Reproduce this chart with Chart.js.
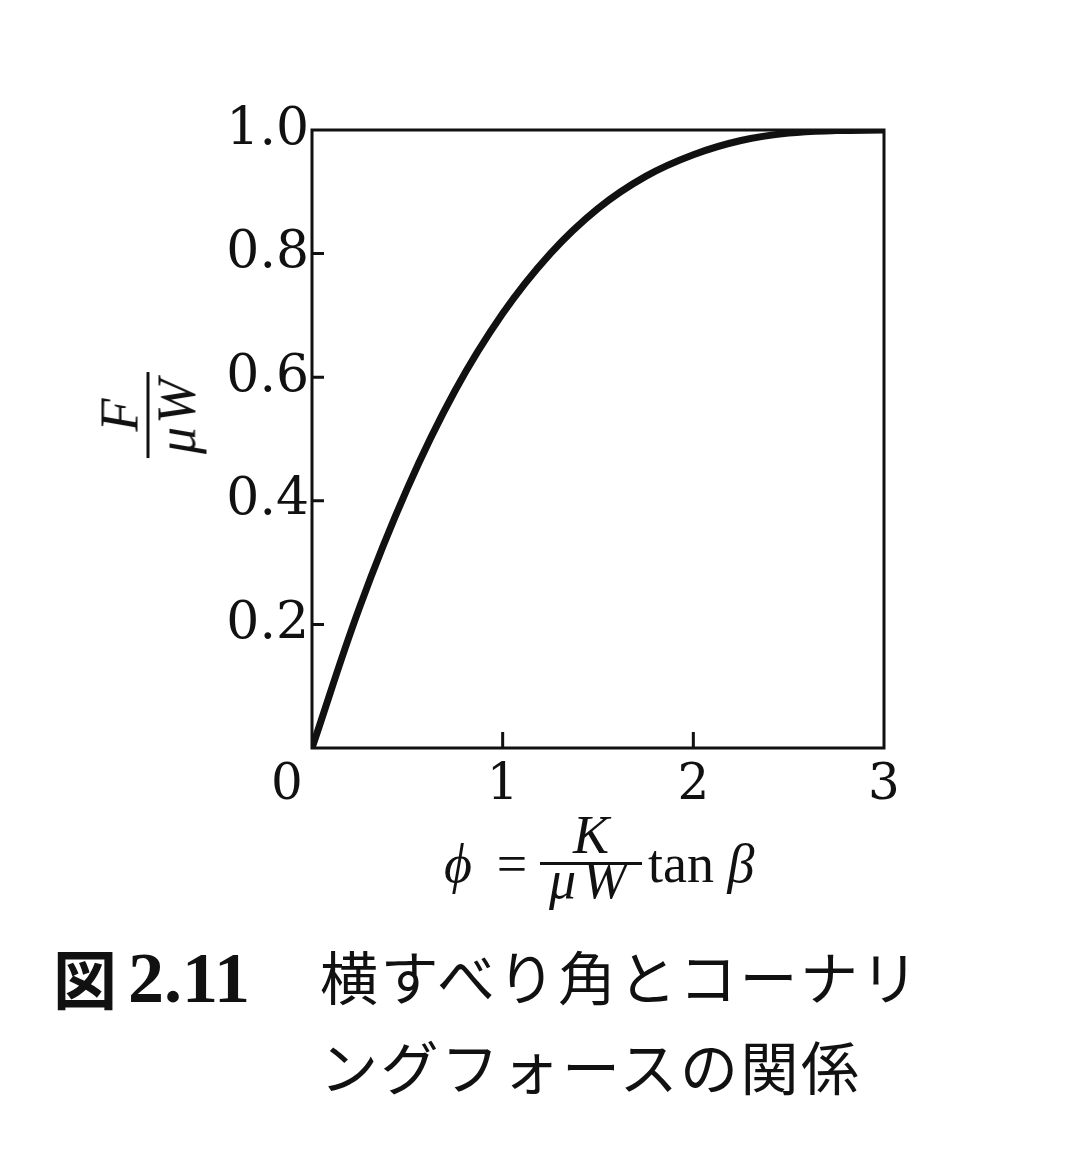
<!DOCTYPE html>
<html>
<head>
<meta charset="utf-8">
<script src="https://cdn.jsdelivr.net/npm/chart.js@4"></script>
<style>
  body { margin: 0; background: #fff; }
  #wrap { position: relative; width: 1080px; height: 1165px; }
  .lbl { position: absolute; color: #111; white-space: nowrap; line-height: 1; }
  .serif { font-family: "Liberation Serif", "DejaVu Serif", serif; font-size: 54px; }
  .it { font-style: italic; }
  .c { transform: translateX(-50%); }
  .jp { font-family: "Noto Sans CJK JP", sans-serif; font-size: 58px; letter-spacing: 2.5px; }
  .frac { display: inline-flex; flex-direction: column; align-items: center; }
  .frac .num, .frac .den { line-height: 1; padding: 0 4px; }
  .frac .bar { border-top: 3px solid #111; align-self: stretch; }
</style>
</head>
<body>
<div id="wrap">
  <canvas id="grafico" width="1080" height="1165"></canvas>

  <!-- y axis title: F / μW, turned to read upwards -->
  <div class="lbl serif it" style="left:148px; top:415px; transform: translate(-50%, -50%) rotate(-90deg);">
    <span class="frac"><span class="num">F</span><span class="bar"></span><span class="den" style="letter-spacing:3px;">μW</span></span>
  </div>

  <!-- x axis title: ϕ = K / μW tan β -->
  <div class="lbl serif it c" style="left:458px; top:837px;">ϕ</div>
  <div class="lbl serif c" style="left:512px; top:837px;">=</div>
  <div class="lbl serif it c" style="left:591px; top:808px;">K</div>
  <div class="lbl" style="left:540px; top:862px; width:102px; border-top:3px solid #111;"></div>
  <div class="lbl serif it c" style="left:591px; top:853px; letter-spacing:6px;">μW</div>
  <div class="lbl serif" style="left:648px; top:837px;">tan <span class="it">β</span></div>

  <!-- caption -->
  <div class="lbl jp" style="left:53px; top:944px; font-size:64px; font-weight:bold; letter-spacing:0;">図</div>
  <div class="lbl" style="left:128px; top:942px; font-family:'Liberation Serif', serif; font-size:72px; font-weight:bold;">2.11</div>
  <div class="lbl jp" style="left:320px; top:946px;">横すべり角とコーナリ</div>
  <div class="lbl jp" style="left:320px; top:1036px;">ングフォースの関係</div>
</div>

<script>
// ψ = (K / μW) tan β  vs  F / μW
const psi   = [0, 0.25, 0.5, 0.75, 1.0, 1.25, 1.5, 1.75, 2.0, 2.25, 2.5, 2.75, 3.0];
const ratio = [0, 0.228, 0.42, 0.578, 0.703, 0.80, 0.873, 0.925, 0.96, 0.983, 0.995, 0.999, 1.0];
const xTicks = [0, 1, 2, 3];
const yTicks = [0.2, 0.4, 0.6, 0.8, 1.0];

const ink = '#111';
const tickFont = '"DejaVu Serif", "Liberation Serif", serif';

// box around the plot + short inward ticks
const frame = {
  id: 'frame',
  beforeDatasetsDraw(chart) {
    const { ctx, chartArea: a, scales } = chart;
    ctx.save();
    ctx.strokeStyle = ink;
    ctx.lineWidth = 3;
    ctx.strokeRect(a.left, a.top, a.width, a.height);
    ctx.beginPath();
    yTicks.forEach(v => {
      if (v >= 1) return;
      const y = scales.y.getPixelForValue(v);
      ctx.moveTo(a.left, y);
      ctx.lineTo(a.left + 12, y);
    });
    xTicks.forEach(v => {
      if (v <= 0 || v >= 3) return;
      const x = scales.x.getPixelForValue(v);
      ctx.moveTo(x, a.bottom);
      ctx.lineTo(x, a.bottom - 16);
    });
    ctx.stroke();
    ctx.restore();
  }
};

const ctx = document.getElementById('grafico').getContext('2d');

new Chart(ctx, {
  type: 'line',
  data: {
    datasets: [{
      data: psi.map((p, i) => ({ x: p, y: ratio[i] })),
      borderColor: ink,
      borderWidth: 7,
      pointRadius: 0,
      tension: 0.4,
      fill: false
    }]
  },
  options: {
    responsive: false,
    animation: false,
    layout: { padding: { top: 130, right: 196, bottom: 0, left: 0 } },
    plugins: {
      legend: { display: false },
      tooltip: { enabled: false }
    },
    scales: {
      x: {
        type: 'linear',
        min: 0, max: 3,
        afterFit(scale) { scale.height = 417; },
        afterBuildTicks(scale) { scale.ticks = xTicks.map(v => ({ value: v })); },
        grid: { display: false, drawTicks: false },
        border: { display: false },
        ticks: {
          color: ink,
          padding: 8,
          maxRotation: 0,
          font: { family: tickFont, size: 50 },
          callback: v => v === 0 ? '0\u2002\u2002' : String(v)
        }
      },
      y: {
        min: 0, max: 1,
        afterFit(scale) { scale.width = 312; },
        afterBuildTicks(scale) { scale.ticks = yTicks.map(v => ({ value: v })); },
        grid: { display: false, drawTicks: false },
        border: { display: false },
        ticks: {
          color: ink,
          padding: 3,
          font: { family: tickFont, size: 52 },
          callback: v => v.toFixed(1)
        }
      }
    }
  },
  plugins: [frame]
});
</script>
</body>
</html>
